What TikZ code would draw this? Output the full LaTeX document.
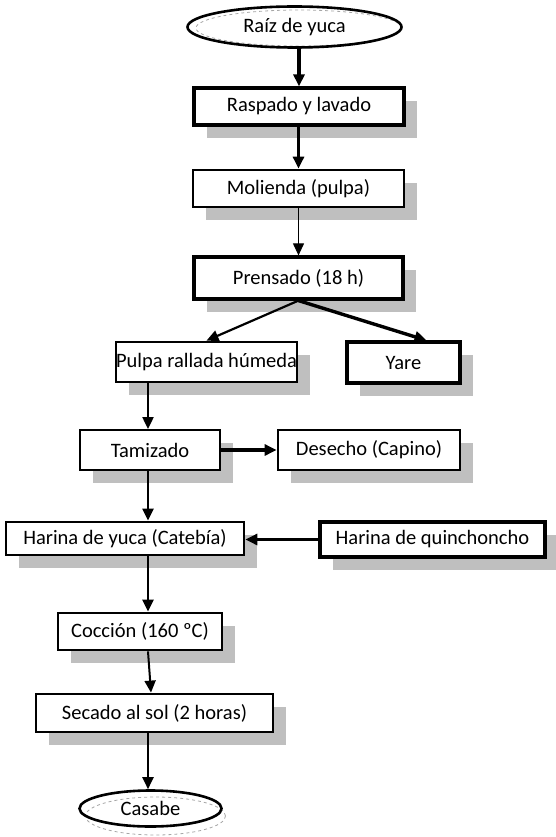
\documentclass[tikz,border=0pt]{standalone}
\usepackage{fontspec}
\setmainfont{Carlito}
\usetikzlibrary{shapes.geometric,shadows,arrows.meta}
\begin{document}
\begin{tikzpicture}[x=1pt,y=-1pt,
  lbl/.style={font=\fontsize{20.5}{24}\selectfont},
  box/.style={draw, fill=white, line width=#1, inner sep=0pt, lbl,
    drop shadow={shadow xshift=13pt, shadow yshift=-13pt, opacity=1, fill=gray!50}},
  box/.default=2.8pt,
  term/.style={ellipse, draw, line width=2.6pt, inner sep=0pt, lbl},
  termghost/.style={gray!70, dashed, line width=0.8pt},
  arr/.style={-{Triangle[length=12pt,width=11pt]}, line width=#1},
  arr/.default=2pt]
\useasboundingbox (0,0) rectangle (555,837);

% start / end terminals
\draw[termghost] (299,28) ellipse [x radius=103pt, y radius=18pt];
\node[term, minimum width=214pt, minimum height=41pt] (raiz) at (294.5,27) {Raíz de yuca};
\draw[termghost] (155.5,816) ellipse [x radius=70pt, y radius=19pt];
\node[term, minimum width=142pt, minimum height=36pt] (casabe) at (150.5,808.5) {Casabe};

% process boxes
\node[box=3.2pt, minimum width=210pt, minimum height=37pt] (raspado) at (299,106.5) {Raspado y lavado};
\node[box, minimum width=211pt, minimum height=37pt] (molienda) at (298.5,188.5) {Molienda (pulpa)};
\node[box=3.2pt, minimum width=209pt, minimum height=42pt] (prensado) at (298.5,278) {Prensado (18 h)};
\node[box, minimum width=143pt, minimum height=40pt] (pulpa) at (206.5,362) {Pulpa rallada húmeda};
\node[box=3.2pt, minimum width=113pt, minimum height=41pt] (yare) at (403.5,362.5) {Yare};
\node[box=1.8pt, minimum width=140pt, minimum height=40pt] (tamizado) at (150,450) {Tamizado};
\node[box, minimum width=182pt, minimum height=40pt] (desecho) at (369,450) {Desecho (Capino)};
\node[box, minimum width=238pt, minimum height=33pt] (harina) at (125,538.5) {Harina de yuca (Catebía)};
\node[box=3.2pt, minimum width=225pt, minimum height=35pt] (quin) at (432.5,539.5) {Harina de quinchoncho};
\node[box, minimum width=164pt, minimum height=37pt] (coccion) at (140,631.5) {Cocción (160 ºC)};
\node[box, minimum width=237pt, minimum height=38pt] (secado) at (154.5,713) {Secado al sol (2 horas)};

% main column x
\coordinate (colx) at (148,0);

% connectors
\draw[arr=3.2pt] (raiz.south -| raspado.north) -- (raspado.north);
\draw[arr=3.2pt] (raspado.south -| molienda.north) -- (molienda.north);
\draw[arr=1pt] (molienda.south) -- (prensado.north);
\draw[arr=2.2pt] (prensado.south) -- (pulpa.north);
\draw[arr=3.4pt] (prensado.south) -- ([xshift=23pt]yare.north);
\draw[arr=2pt] (colx |- pulpa.south) -- (colx |- tamizado.north);
\draw[arr=3.2pt] (tamizado.east) -- (desecho.west);
\draw[arr=2.2pt] (colx |- tamizado.south) -- (colx |- harina.north);
\draw[arr=3.2pt] (quin.west) -- (quin.west -| harina.east);
\draw[arr=2.2pt] (colx |- harina.south) -- (colx |- coccion.north);
\draw[arr=2pt] (colx |- coccion.south) -- ([xshift=3pt]colx |- secado.north);
\draw[arr=2pt] (colx |- secado.south) -- (colx |- casabe.north);
\end{tikzpicture}
\end{document}
